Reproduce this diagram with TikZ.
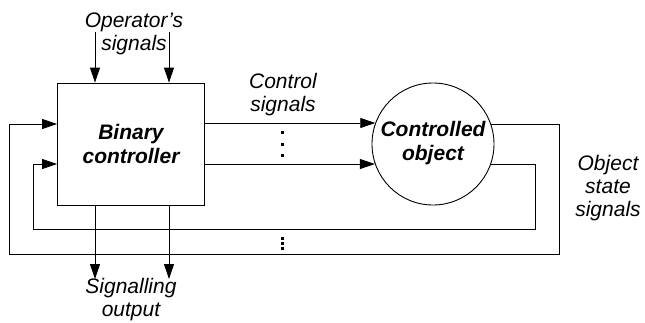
\documentclass[tikz,border=0pt]{standalone}
\usepackage{fontspec}
\setmainfont{Liberation Sans}
\usetikzlibrary{arrows.meta}
\tikzset{
  arr/.style={line width=0.9pt,-{Triangle[length=15pt,width=10pt]}},
  lbl/.style={font=\fontsize{21}{23}\selectfont\itshape,align=center,inner sep=0pt},
  blbl/.style={font=\fontsize{21}{24}\selectfont\bfseries\itshape,align=center,inner sep=0pt},
  vdot/.style={fill=black,inner sep=0pt,minimum size=3pt,draw=none},
}
\begin{document}
\begin{tikzpicture}[x=1pt,y=-1pt]
\useasboundingbox (0,0) rectangle (645,322);
\node[draw,line width=0.9pt,minimum width=147pt,minimum height=122pt,inner sep=0pt] (ctrl) at (131,144) {};
\node[blbl] (ctrlt) at (131,144) {Binary\\controller};
\node[draw,circle,line width=0.9pt,minimum size=122pt,inner sep=0pt] (obj) at (433,144) {};
\node[blbl] (objt) at (433,143) {Controlled\\object};
% operator's signals
\coordinate (op1) at (95,32);
\coordinate (op2) at (169,32);
\draw[arr] (op1) -- (op1 |- ctrl.north);
\draw[arr] (op2) -- (op2 |- ctrl.north);
\node[lbl] (opt) at (134,34) {Operator’s\\signals};
% signalling output
\coordinate (so1) at (95,279);
\coordinate (so2) at (169,279);
\draw[arr] (ctrl.south -| so1) -- (so1);
\draw[arr] (ctrl.south -| so2) -- (so2);
\node[lbl] (sot) at (131,300) {Signalling\\output};
% control signals
\draw[arr] (ctrl.east |- obj.160.9) -- (obj.160.9);
\draw[arr] (ctrl.east |- obj.199.1) -- (obj.199.1);
\node[lbl] (cst) at (283,95) {Control\\signals};
\node[vdot] (d1) at (282,132) {};
\node[vdot] (d2) at (282,144) {};
\node[vdot] (d3) at (282,155) {};
% feedback loops
\coordinate (r1) at (559,254);
\coordinate (l1) at (9,254);
\coordinate (r2) at (535,229);
\coordinate (l2) at (33,229);
\draw[arr] (obj.19.1) -| (r1) -- (l1) |- (ctrl.west |- obj.19.1);
\draw[arr] (obj.-19.1) -| (r2) -- (l2) |- (ctrl.west |- obj.-19.1);
\node[vdot] (e1) at (282,238) {};
\node[vdot] (e2) at (282,243) {};
\node[vdot] (e3) at (282,248) {};
\node[lbl] (ost) at (608,188) {Object\\state\\signals};
\end{tikzpicture}
\end{document}
